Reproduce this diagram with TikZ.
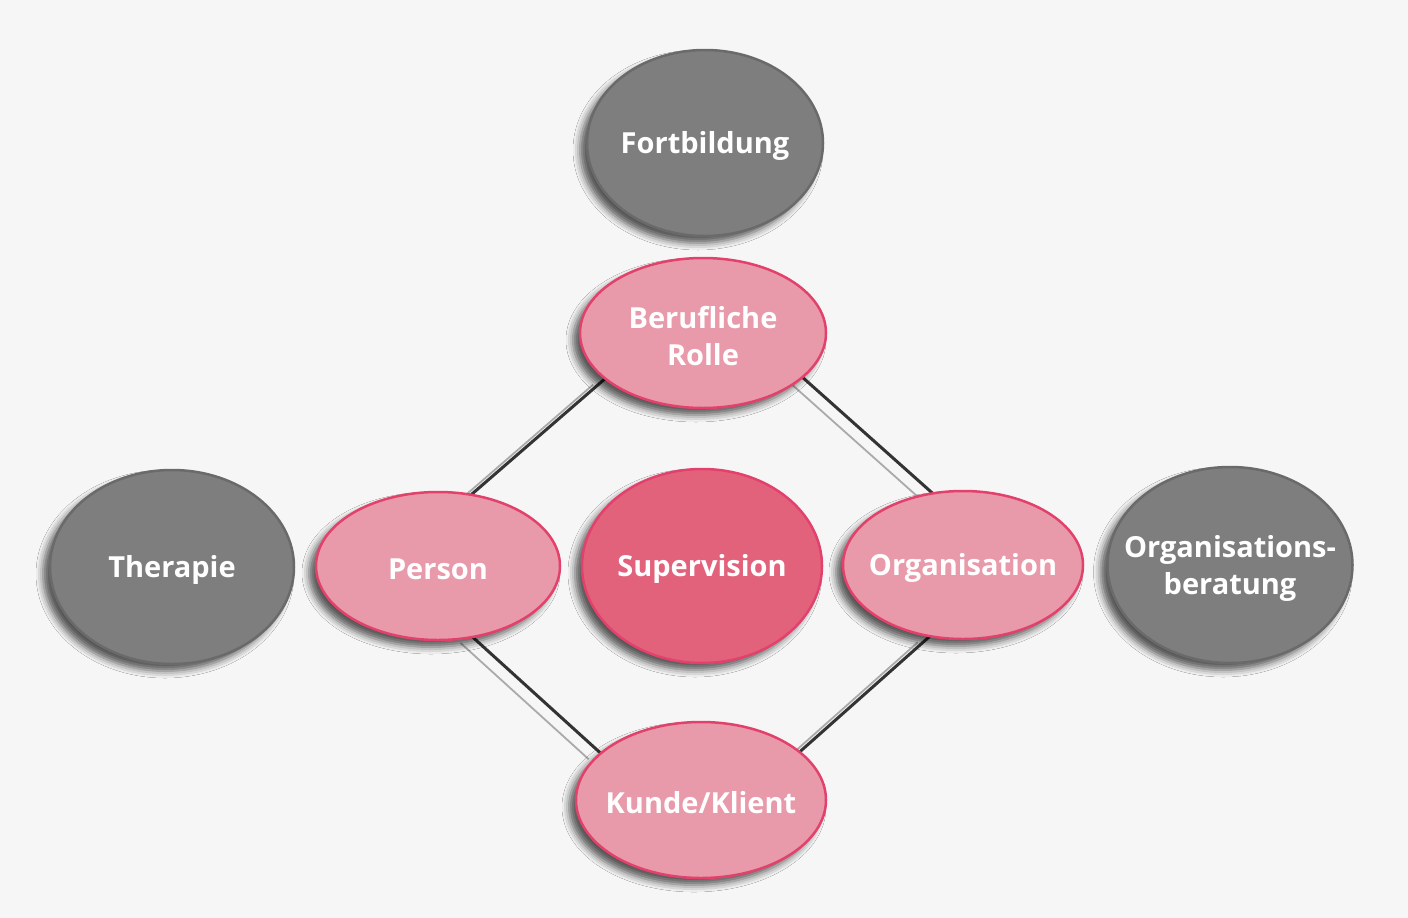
\documentclass[tikz,border=0pt]{standalone}
\usepackage{fontspec}
\setmainfont{Open Sans}
\usetikzlibrary{shapes.geometric,shadows.blur}

\definecolor{paper}{HTML}{F6F6F6}
\definecolor{greyfill}{HTML}{7E7E7E}
\definecolor{greyline}{HTML}{6A6A6A}
\definecolor{rosefill}{HTML}{E89AAA}
\definecolor{rosedeep}{HTML}{E2627C}
\definecolor{roseline}{HTML}{E2416B}
\definecolor{linkdark}{HTML}{333333}
\definecolor{linkshade}{HTML}{AAAAAA}

\tikzset{
  blob/.style={ellipse, inner sep=0pt, line width=2.5pt,
    blur shadow={shadow xshift=-7pt, shadow yshift=-7pt,
      shadow blur radius=7pt, shadow opacity=65}},
  outer/.style={blob, fill=greyfill, draw=greyline},
  inner/.style={blob, fill=rosefill, draw=roseline},
  core/.style={blob, fill=rosedeep, draw=roseline},
  caption/.style={text=white, font=\fontsize{29}{37}\selectfont\bfseries,
    align=center, inner sep=0pt, yshift=-3pt},
  link/.style={draw=linkdark, line width=3pt},
  linkshadow/.style={draw=linkshade, line width=1.8pt,
    transform canvas={xshift=-12pt, yshift=-6pt}}
}

\begin{document}
\begin{tikzpicture}[x=1pt,y=-1pt]
  \fill[paper] (0,0) rectangle (1408,918);
  \useasboundingbox (0,0) rectangle (1408,918);

  \path
    (705,143) coordinate (cFort)
    (703,333) coordinate (cRolle)
    (438,566) coordinate (cPerson)
    (702,566) coordinate (cSuper)
    (963,565) coordinate (cOrga)
    (701,800) coordinate (cKunde)
    (172,567) coordinate (cTher)
    (1230,565) coordinate (cBer);

  % ellipse outlines only, so the links can be laid underneath
  \node[ellipse, minimum width=246pt, minimum height=150pt, inner sep=0pt] (rolleB) at (cRolle) {};
  \node[ellipse, minimum width=244pt, minimum height=148pt, inner sep=0pt] (personB) at (cPerson) {};
  \node[ellipse, minimum width=240pt, minimum height=148pt, inner sep=0pt] (orgaB) at (cOrga) {};
  \node[ellipse, minimum width=250pt, minimum height=156pt, inner sep=0pt] (kundeB) at (cKunde) {};

  % soft grey shade lines beside the links
  \path[linkshadow] (rolleB.205.5) -- (personB.65);
  \path[linkshadow] (rolleB.-24) -- (orgaB.113);
  \path[linkshadow] (personB.-64) -- (kundeB.155);
  \path[linkshadow] (orgaB.245) -- (kundeB.26);

  % the links themselves
  \path[link] (rolleB.205.5) -- (personB.65);
  \path[link] (rolleB.-24) -- (orgaB.113);
  \path[link] (personB.-64) -- (kundeB.155);
  \path[link] (orgaB.245) -- (kundeB.26);

  % ellipses
  \node[outer, minimum width=236pt, minimum height=186pt] (fort) at (cFort) {};
  \node[inner, minimum width=246pt, minimum height=150pt] (rolle) at (cRolle) {};
  \node[inner, minimum width=244pt, minimum height=148pt] (person) at (cPerson) {};
  \node[core,  minimum width=240pt, minimum height=194pt] (super) at (cSuper) {};
  \node[inner, minimum width=240pt, minimum height=148pt] (orga) at (cOrga) {};
  \node[inner, minimum width=250pt, minimum height=156pt] (kunde) at (cKunde) {};
  \node[outer, minimum width=244pt, minimum height=194pt] (ther) at (cTher) {};
  \node[outer, minimum width=245pt, minimum height=196pt] (ber) at (cBer) {};

  % captions
  \node[caption] (fortT) at (fort) {Fortbildung};
  \node[caption] (rolleT) at (rolle) {Berufliche\\Rolle};
  \node[caption] (personT) at (person) {Person};
  \node[caption] (superT) at (super) {Supervision};
  \node[caption] (orgaT) at (orga) {Organisation};
  \node[caption] (kundeT) at (kunde) {Kunde/Klient};
  \node[caption] (therT) at (ther) {Therapie};
  \node[caption] (berT) at (ber) {Organisations-\\beratung};
\end{tikzpicture}
\end{document}
